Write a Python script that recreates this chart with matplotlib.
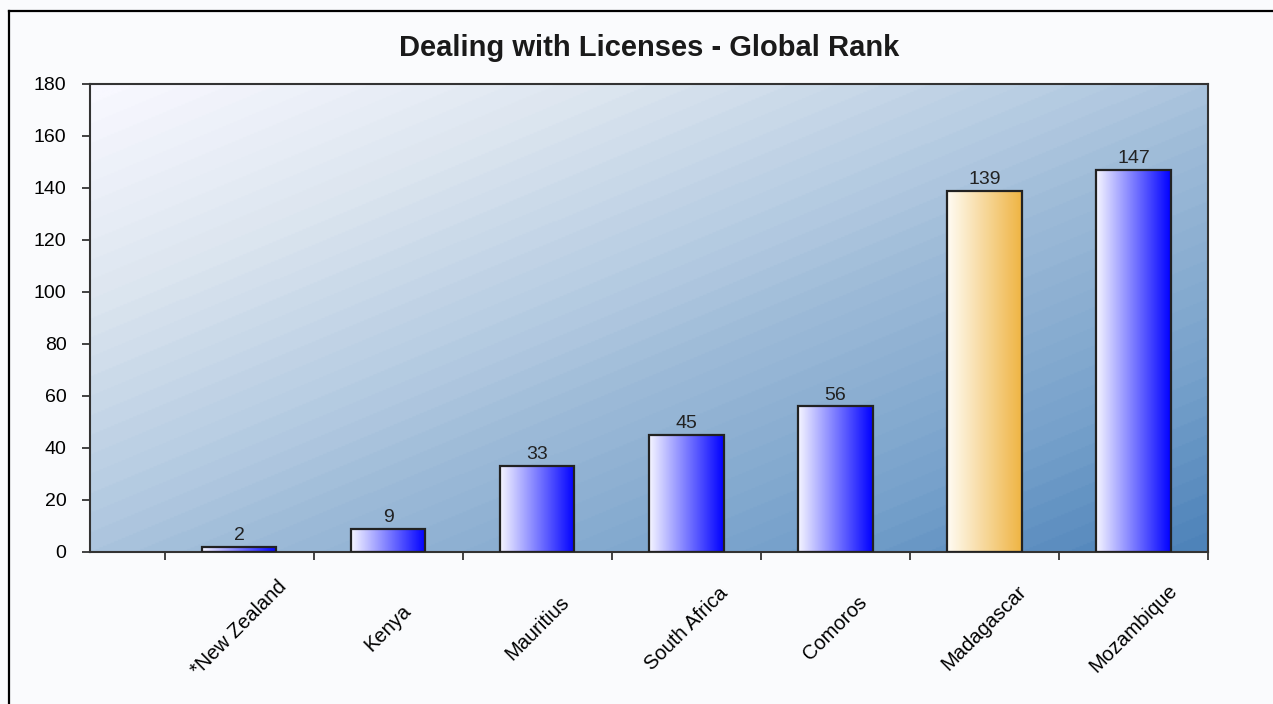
import numpy as np
import matplotlib.pyplot as plt
from matplotlib.colors import LinearSegmentedColormap
from matplotlib.lines import Line2D

plt.rcParams['font.family'] = 'Liberation Sans'

countries = ['*New Zealand', 'Kenya', 'Mauritius', 'South Africa', 'Comoros', 'Madagascar', 'Mozambique']
rank = [2, 9, 33, 45, 56, 139, 147]
highlight = 'Madagascar'

W, H = 1273, 704
fig = plt.figure(figsize=(W / 100, H / 100), dpi=100, facecolor='#fafbfd')
ax = fig.add_axes([90 / W, 1 - 552 / H, 1118 / W, 468 / H])

x = np.arange(len(countries))
xlo, xhi = -1, len(countries) - 0.5

# corner-to-corner shaded backdrop, light top-left -> dark bottom-right
gx, gy = np.meshgrid(np.linspace(0, 1, 600), np.linspace(0, 1, 300))
t = (gx + gy) / 2
t = np.floor(t * 48) / 48
bg_cmap = LinearSegmentedColormap.from_list('bg', [
    (0.0, '#f8f8ff'), (0.22, '#dde6f0'), (0.45, '#b3cae1'),
    (0.55, '#9ebbd8'), (0.8, '#76a1cb'), (1.0, '#4a80b8')])
ax.imshow(t, cmap=bg_cmap, extent=(xlo, xhi, 0, 180), aspect='auto', zorder=0)

blue_cmap = LinearSegmentedColormap.from_list('blue', ['#f6f6ff', '#0000ff'])
orange_cmap = LinearSegmentedColormap.from_list('orange', ['#fffcf4', '#efb443'])

bars = ax.bar(x, rank, width=0.5, facecolor='none', edgecolor='#222222', linewidth=1.6, zorder=3)
ramp = np.linspace(0, 1, 256).reshape(1, -1)
for name, b in zip(countries, bars):
    cm = orange_cmap if name == highlight else blue_cmap
    im = ax.imshow(ramp, cmap=cm, aspect='auto', zorder=2,
                   extent=(b.get_x(), b.get_x() + b.get_width(), 0, b.get_height()))
    im.set_clip_path(b)

ax.bar_label(bars, padding=2, fontsize=14, color='#222222')

ax.set_xlim(xlo, xhi)
ax.set_ylim(0, 180)

ax.set_xticks(x)
ax.set_xticklabels(countries, rotation=45, ha='center', va='center', fontsize=14.5)
ax.tick_params(axis='x', which='major', length=0, pad=55)
ax.set_xticks(np.arange(-0.5, len(countries)), minor=True)
ax.tick_params(axis='x', which='minor', length=6, width=1.3, color='#333333')
ax.set_yticks(range(0, 181, 20))
ax.tick_params(axis='y', length=6, width=1.3, color='#333333', pad=11, labelsize=14)
for s in ax.spines.values():
    s.set_color('#333333')
    s.set_linewidth(1.5)

ax.set_title('Dealing with Licenses - Global Rank', fontsize=21, fontweight='bold', pad=20, color='#1a1a1a')

# outer frame (left and top edges)
fig.add_artist(Line2D([9 / W, 9 / W], [0, 1 - 11 / H], color='black', lw=1.6))
fig.add_artist(Line2D([9 / W, 1], [1 - 11 / H, 1 - 11 / H], color='black', lw=1.6))

plt.savefig('out.png', dpi=100, facecolor=fig.get_facecolor())
